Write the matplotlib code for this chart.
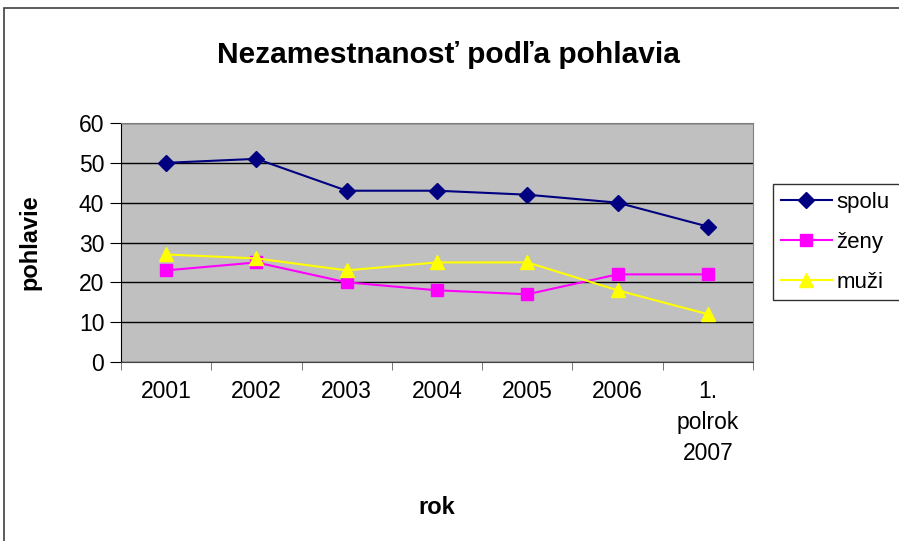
import matplotlib
matplotlib.use("Agg")
import matplotlib.pyplot as plt
from matplotlib.patches import Rectangle
import numpy as np

plt.rcParams["font.family"] = ["Liberation Sans", "DejaVu Sans"]

# data
categories = ["2001", "2002", "2003", "2004", "2005", "2006", "1.\npolrok\n2007"]
spolu = [50, 51, 43, 43, 42, 40, 34]
zeny = [23, 25, 20, 18, 17, 22, 22]
muzi = [27, 26, 23, 25, 25, 18, 12]
y_ticks = [0, 10, 20, 30, 40, 50, 60]

W, H = 899, 541
fig = plt.figure(figsize=(W / 100, H / 100), dpi=100)

# axes placed in pixel coords of the reference
left, right, top, bottom = 121, 753, 123, 362
ax = fig.add_axes([left / W, 1 - bottom / H, (right - left) / W, (bottom - top) / H])
ax.set_facecolor("#C0C0C0")

x = np.arange(len(categories))
ax.plot(x, spolu, color="#000080", marker="D", markersize=8, lw=1.5, label="spolu")
ax.plot(x, zeny, color="#FF00FF", marker="s", markersize=9, lw=1.5, label="ženy")
ax.plot(x, muzi, color="#FFFF00", marker="^", markersize=10, lw=1.5, label="muži")

ax.set_xlim(-0.5, len(categories) - 0.5)
ax.set_ylim(0, 60)
ax.set_yticks(y_ticks)
ax.yaxis.grid(True, color="black", lw=1)
ax.set_axisbelow(True)

# category labels centered, tick marks on the boundaries
ax.set_xticks(x)
ax.set_xticklabels(categories, fontsize=16.5, linespacing=1.45, va="top")
ax.tick_params(axis="x", which="major", length=0, pad=13)
ax.set_xticks(np.arange(len(categories) + 1) - 0.5, minor=True)
ax.tick_params(axis="x", which="minor", length=6, direction="out", color="#606060")
ax.tick_params(axis="y", length=8, direction="out", labelsize=16.5, pad=4)

for s in ["top", "right"]:
    ax.spines[s].set_color("#808080")
ax.spines["left"].set_color("black")
ax.spines["bottom"].set_color("#404040")

ax.set_xlabel("rok", fontsize=17, fontweight="bold", labelpad=22)
ax.set_ylabel("pohlavie", fontsize=17, fontweight="bold", labelpad=27)

fig.text(448 / W, 1 - 55 / H, "Nezamestnanosť podľa pohlavia",
         ha="center", va="center", fontsize=21.5, fontweight="bold")

leg = fig.legend(loc="upper left", bbox_to_anchor=(773 / W, 1 - 184 / H, 0.2, 0.0),
                 mode="expand", fontsize=16, frameon=True, fancybox=False,
                 edgecolor="black", borderpad=0.35, labelspacing=0.85,
                 handlelength=2.3, handletextpad=0.2, borderaxespad=0)
leg.get_frame().set_linewidth(1.0)

# outer chart border, running off the right and bottom edges
fig.patches.append(Rectangle((4 / W, -0.1), 1.2, 1.1 - 8 / H, transform=fig.transFigure,
                             fill=False, edgecolor="#404040", lw=1.2))

fig.savefig("out.png", dpi=100)
